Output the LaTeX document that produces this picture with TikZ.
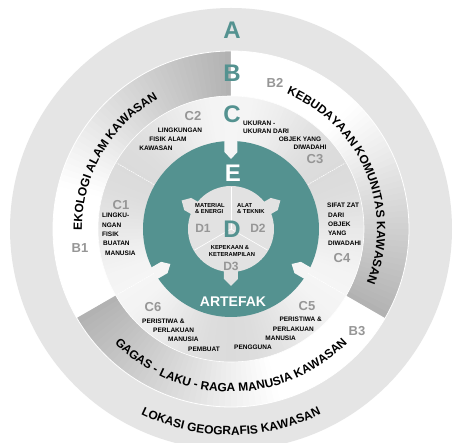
\documentclass[tikz,border=0pt]{standalone}
\usepackage{fontspec}
\setmainfont{Liberation Sans}
\usetikzlibrary{decorations.text}
\definecolor{tealx}{RGB}{84,146,144}
\definecolor{labgray}{RGB}{150,150,150}
\definecolor{ringA}{RGB}{229,229,229}
\definecolor{dgray}{RGB}{226,226,226}
\newcommand\myarcfont{\fontsize{12}{12}\selectfont\bfseries}
\tikzset{
  stxt/.style={font=\fontsize{6.5}{7}\selectfont\bfseries, inner sep=0pt, text=black},
  dtxt/.style={font=\fontsize{5.8}{6}\selectfont\bfseries, inner sep=0pt, text=black},
  clab/.style={font=\fontsize{13}{13}\selectfont\bfseries, text=labgray, inner sep=0pt},
  bigl/.style={font=\fontsize{24}{24}\selectfont\bfseries, text=tealx, inner sep=0pt},
  arctext/.style={decorate, decoration={text along path, text align=center, text={|\myarcfont|#1}}},
}
\begin{document}
\begin{tikzpicture}[x=1pt,y=1pt]
\useasboundingbox (-231,-214) rectangle (222,229);
\clip (-231,-214) rectangle (222,229);
\fill[white] (-231,-214) rectangle (222,229);
% ring A
\fill[ringA] (0,0) circle[radius=221];
% ring B with angular shading
\foreach \s in {90,210,330}{
  \foreach \t in {0,2,...,118}{
    \pgfmathsetmacro\a{\s+\t}
    \pgfmathsetmacro\b{\s+\t+(\t<118 ? 2.4 : 2)}
    \pgfmathsetmacro\v{max(0,30*(1-\t/75))}
    \fill[black!\v] (\a:133) arc[start angle=\a,end angle=\b,radius=133] -- (\b:178) arc[start angle=\b,end angle=\a,radius=178] -- cycle;
  }
}
% ring C
\foreach \t in {0,2,...,358}{
  \pgfmathsetmacro\b{\t+2.4}
  \pgfmathsetmacro\v{4+10*(1-cos(3*(\t+1-90)))/2}
  \fill[black!\v] (\t:87) arc[start angle=\t,end angle=\b,radius=87] -- (\b:133) arc[start angle=\b,end angle=\t,radius=133] -- cycle;
}
\draw[white, line width=0.8] (0,0) circle[radius=178];
\draw[white, line width=0.6] (0,0) circle[radius=133];
% ring E (teal) with notches
\fill[tealx] (0,0) circle[radius=88];
\foreach \q in {90,210,330}{
  \pgfmathsetmacro\rr{\q-90}
  \fill[black!4, rotate=\rr] (-6.5,89) -- (6.5,89) -- (6.5,77) -- (0,70) -- (-6.5,77) -- cycle;
}
% D region
\fill[dgray] (0,0) circle[radius=43];
\foreach \q in {30,150,270}{
  \pgfmathsetmacro\rr{\q-90}
  \fill[dgray, rotate=\rr] (-7,38) -- (7,38) -- (7,50) -- (0,57) -- (-7,50) -- cycle;
}
% faint sector lines
\foreach \q in {30,150,210,330}{
  \draw[white, line width=0.6, dash pattern=on 1.5pt off 1pt] (\q:89) -- (\q:132);
}
\foreach \q in {90,210,330}{
  \draw[white, line width=0.6] (0,0) -- (\q:42);
}
% arc texts
\path[arctext={EKOLOGI ALAM KAWASAN}] (210:149) arc[start angle=210,end angle=90,radius=149];
\path[arctext={KEBUDAYAAN KOMUNITAS KAWASAN}] (113:146) arc[start angle=113,end angle=-67,radius=146];
\path[arctext={GAGAS - LAKU - RAGA MANUSIA KAWASAN}] (180:163) arc[start angle=180,end angle=360,radius=163];
\path[arctext={LOKASI GEOGRAFIS KAWASAN}] (200:206) arc[start angle=200,end angle=340,radius=206];
% big letters
\node[bigl] (lA) at (1,199) {A};
\node[bigl] (lB) at (1,156) {B};
\node[bigl] (lC) at (1,115) {C};
\node[bigl, text=white] (lE) at (2,56) {E};
\node[bigl] (lD) at (1,0) {D};
\node[font=\fontsize{14}{14}\selectfont\bfseries, text=white, inner sep=0pt] (art) at (2,-73) {ARTEFAK};
% B labels
\node[clab] (b1) at (-151,-19) {B1};
\node[clab] (b2) at (44,146) {B2};
\node[clab] (b3) at (126,-102) {B3};
% C1
\node[clab] (c1) at (-110,24) {C1};
\node[stxt, anchor=west] (c1a) at (-129,14) {LINGKU-};
\node[stxt, anchor=west] (c1b) at (-129,4) {NGAN};
\node[stxt, anchor=west] (c1c) at (-129,-5) {FISIK};
\node[stxt, anchor=west] (c1d) at (-128,-14) {BUATAN};
\node[stxt, anchor=west] (c1e) at (-126,-24) {MANUSIA};
% C2
\node[clab] (c2) at (-38,113) {C2};
\node[stxt] (c2a) at (-51,99) {LINGKUNGAN};
\node[stxt] (c2b) at (-63,90) {FISIK ALAM};
\node[stxt] (c2c) at (-75,81) {KAWASAN};
% C3
\node[stxt, anchor=west] (c3a) at (12,106) {UKURAN -};
\node[stxt, anchor=west] (c3b) at (12,98) {UKURAN DARI};
\node[stxt] (c3c) at (69,90) {OBJEK YANG};
\node[stxt] (c3d) at (79,82) {DIWADAHI};
\node[clab] (c3) at (84,70) {C3};
% C4
\node[stxt, anchor=west] (c4a) at (96,24) {SIFAT ZAT};
\node[stxt, anchor=west] (c4b) at (97,14) {DARI};
\node[stxt, anchor=west] (c4c) at (97,5) {OBJEK};
\node[stxt, anchor=west] (c4d) at (97,-4) {YANG};
\node[stxt, anchor=west] (c4e) at (97,-14) {DIWADAHI};
\node[clab] (c4) at (111,-29) {C4};
% C5
\node[clab] (c5) at (76,-77) {C5};
\node[stxt, anchor=east] (c5a) at (91,-90) {PERISTIWA \&};
\node[stxt, anchor=east] (c5b) at (83,-100) {PERLAKUAN};
\node[stxt, anchor=east] (c5c) at (65,-109) {MANUSIA};
\node[stxt, anchor=east] (c5d) at (41,-118) {PENGGUNA};
% C6
\node[clab] (c6) at (-78,-78) {C6};
\node[stxt, anchor=west] (c6a) at (-89,-92) {PERISTIWA \&};
\node[stxt, anchor=west] (c6b) at (-78,-101) {PERLAKUAN};
\node[stxt, anchor=west] (c6c) at (-63,-110) {MANUSIA};
\node[stxt, anchor=west] (c6d) at (-43,-120) {PEMBUAT};
% D texts
\node[dtxt, anchor=west] (d1a) at (-36,23.5) {MATERIAL};
\node[dtxt, anchor=west] (d1b) at (-36,17) {\& ENERGI};
\node[clab, font=\fontsize{12}{12}\selectfont\bfseries] (d1) at (-28,1) {D1};
\node[dtxt, anchor=west] (d2a) at (6,23.5) {ALAT};
\node[dtxt, anchor=west] (d2b) at (6,17) {\& TEKNIK};
\node[clab, font=\fontsize{12}{12}\selectfont\bfseries] (d2) at (27,1) {D2};
\node[dtxt] (d3a) at (-1,-19) {KEPEKAAN \&};
\node[dtxt] (d3b) at (1,-26) {KETERAMPILAN};
\node[clab, font=\fontsize{12}{12}\selectfont\bfseries] (d3) at (0,-37) {D3};
\end{tikzpicture}
\end{document}
